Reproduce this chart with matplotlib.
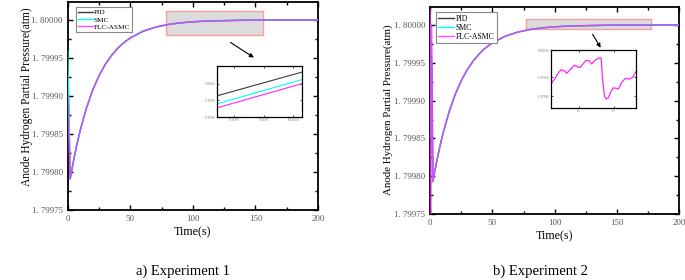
import matplotlib
matplotlib.use("Agg")
import matplotlib.pyplot as plt
from matplotlib.ticker import MultipleLocator, FuncFormatter, FixedLocator
from matplotlib.patches import Rectangle, FancyArrowPatch
from matplotlib.lines import Line2D

plt.rcParams["font.family"] = ["Liberation Serif", "DejaVu Serif"]

# --- main response (time in s, pressure in atm) ---
t_main = [0, 2, 5, 7.5, 10, 15, 20, 25, 30, 35, 40, 45, 50, 60, 70, 80,
          90, 100, 110, 120, 140, 160, 200]
p_curve = [1.7998176, 1.7998372, 1.7998547, 1.7998842, 1.7999078, 1.7999265,
           1.7999415, 1.7999534, 1.7999628, 1.7999704, 1.7999764, 1.7999850,
           1.7999905, 1.7999940, 1.7999962, 1.7999976, 1.7999985, 1.7999990,
           1.7999996, 1.8000000, 1.8000000]

# exp 1: start value and dip for each controller
p_pid_a = [1.79996, 1.799791] + p_curve
p_smc_a = [1.79996, 1.799791] + p_curve
p_flc_a = [1.79990, 1.799791] + p_curve

# exp 2: oscillating start then the same recovery
t_main_b = [0, 0.6, 1.2, 2.2] + t_main[2:]
p_pid_b = [1.80000, 1.79990, 1.79995, 1.799793] + p_curve
p_smc_b = [1.80000, 1.79985, 1.79996, 1.799793] + p_curve
p_flc_b = [1.80002, 1.79975, 1.80000, 1.799793] + p_curve

# zoomed inset, exp 1 (three parallel ramps)
t_zoom_a = [0.0, 1.0]
z_pid_a = [1.79999927, 1.80000069]
z_smc_a = [1.79999879, 1.80000024]
z_flc_a = [1.79999855, 1.80000000]

# zoomed inset, exp 2 (FLC-ASMC ripple)
t_zoom_b = [0.110, 0.157, 0.200, 0.244, 0.292, 0.326, 0.373, 0.437, 0.484,
            0.518, 0.566, 0.599, 0.648, 0.686, 0.734, 0.806, 0.821, 0.839,
            0.869, 0.893, 0.926, 0.965, 0.998, 1.037, 1.070, 1.119, 1.166,
            1.224, 1.272, 1.320]
z_flc_b = [1.79999890, 1.79999913, 1.79999940, 1.79999958, 1.79999952,
           1.79999940, 1.79999958, 1.79999982, 1.79999973, 1.79999970,
           1.79999991, 1.80000006, 1.80000006, 1.79999988, 1.80000009,
           1.80000021, 1.80000018, 1.79999913, 1.79999820, 1.79999808,
           1.79999814, 1.79999850, 1.79999865, 1.79999862, 1.79999859,
           1.79999895, 1.79999913, 1.79999910, 1.79999919, 1.79999949]

# gray zoom windows (t0, t1, p0, p1)
box_a = (78.5, 156, 1.799980, 1.800012)
box_b = (77, 177, 1.799995, 1.800008)

C_PID, C_SMC, C_FLC = "#3a3a3a", "#00ffff", "#ff22ff"
TICK_C = "#555555"


def ytick_fmt(v, pos):
    return f"{v:.5f}".replace(".", ". ")


def style_main(ax):
    ax.set_xlim(0, 200)
    ax.set_ylim(1.79975, 1.8000237)
    ax.xaxis.set_major_locator(MultipleLocator(50))
    ax.xaxis.set_minor_locator(MultipleLocator(25))
    ax.yaxis.set_major_locator(FixedLocator([1.79975, 1.79980, 1.79985, 1.79990, 1.79995, 1.80000]))
    ax.yaxis.set_minor_locator(FixedLocator([1.799775, 1.799825, 1.799875, 1.799925, 1.799975]))
    ax.yaxis.set_major_formatter(FuncFormatter(ytick_fmt))
    ax.tick_params(which="both", direction="in", top=True, right=True,
                   labelsize=6.3, colors="black", labelcolor=TICK_C, width=1)
    ax.tick_params(which="major", length=3.5)
    ax.tick_params(which="minor", length=2)
    for s in ax.spines.values():
        s.set_linewidth(1.3)


def draw_main(ax, t, pid, smc, flc, box):
    ax.add_patch(Rectangle((box[0], box[2]), box[1] - box[0], box[3] - box[2],
                           facecolor="#dcdcdc", edgecolor="#f2a0a0", lw=1, zorder=1))
    ax.plot(t, pid, color=C_PID, lw=1, zorder=2)
    ax.plot(t, smc, color=C_SMC, lw=1, zorder=3)
    ax.plot(t, flc, color=C_FLC, lw=1, alpha=0.82, zorder=4)
    style_main(ax)


def style_inset(ax):
    ax.tick_params(which="both", direction="in", top=True, right=True,
                   labelsize=2, length=1.2, width=0.5, pad=1, labelcolor="#777777")
    for s in ax.spines.values():
        s.set_linewidth(0.9)


fig = plt.figure(figsize=(6.85, 2.8), dpi=100)

ax_a = fig.add_axes([0.0988, 0.25, 0.3655, 0.743])
draw_main(ax_a, t_main, p_pid_a, p_smc_a, p_flc_a, box_a)
ax_b = fig.add_axes([0.628, 0.2357, 0.3635, 0.739])
draw_main(ax_b, t_main_b, p_pid_b, p_smc_b, p_flc_b, box_b)

handles = [Line2D([], [], color=C_PID, lw=1),
           Line2D([], [], color=C_SMC, lw=1),
           Line2D([], [], color=C_FLC, lw=1, alpha=0.8)]
for ax, anchor, fs in ((ax_a, (0.033, 0.975), 5.2), (ax_b, (0.024, 0.975), 5.6)):
    leg = ax.legend(handles, ["PID", "SMC", "FLC-ASMC"], loc="upper left",
                    bbox_to_anchor=anchor, fontsize=fs, handlelength=2.0,
                    handletextpad=0.2, borderpad=0.3, labelspacing=0.15,
                    fancybox=False, framealpha=1, borderaxespad=0)
    leg.get_frame().set_edgecolor("#888888")
    leg.get_frame().set_linewidth(0.8)

# axis titles
fig.text(0.040, 0.655, "Anode Hydrogen Partial Pressure(atm)", rotation=90,
         ha="center", va="center", fontsize=8.3)
fig.text(0.567, 0.607, "Anode Hydrogen Partial Pressure(atm)", rotation=90,
         ha="center", va="center", fontsize=7.8)
fig.text(192 / 685, 1 - 232 / 280, "Time(s)", ha="center", va="center", fontsize=8.6)
fig.text(554 / 685, 1 - 236 / 280, "Time(s)", ha="center", va="center", fontsize=8.6)
fig.text(183 / 685, 1 - 271 / 280, "a) Experiment 1", ha="center", va="center", fontsize=10.5)
fig.text(540 / 685, 1 - 271 / 280, "b) Experiment 2", ha="center", va="center", fontsize=10.5)

# arrows to insets
arrow = dict(arrowstyle="-|>", color="black", lw=0.8, mutation_scale=6)
fig.add_artist(FancyArrowPatch((0.333, 0.854), (0.374, 0.789),
                               transform=fig.transFigure, **arrow))
fig.add_artist(FancyArrowPatch((0.863, 0.886), (0.879, 0.821),
                               transform=fig.transFigure, **arrow))

# inset a
ins_a = fig.add_axes([0.3168, 0.582, 0.124, 0.182])
ins_a.plot(t_zoom_a, z_pid_a, color=C_PID, lw=0.8)
ins_a.plot(t_zoom_a, z_smc_a, color=C_SMC, lw=0.8)
ins_a.plot(t_zoom_a, z_flc_a, color=C_FLC, lw=0.8)
ins_a.set_xlim(0, 1)
ins_a.set_ylim(1.799998, 1.80000105)
ins_a.set_xticks([0.2, 0.55, 0.9])
ins_a.set_xticklabels(["99.99990", "99.99995", "100.00000"])
ins_a.set_yticks([1.799998, 1.799999, 1.800000])
ins_a.set_yticklabels(["1.799998", "1.799999", "1.800000"])
style_inset(ins_a)

# inset b
ins_b = fig.add_axes([0.8044, 0.614, 0.124, 0.207])
ins_b.plot(t_zoom_b, z_flc_b, color=C_FLC, lw=0.9)
ins_b.set_xlim(0.1, 1.32)
ins_b.set_ylim(1.7999976, 1.8000006)
ins_b.set_xticks([0.5, 1.0])
ins_b.set_xticklabels(["0.5", "1.0"])
ins_b.set_yticks([1.7999982, 1.7999992, 1.8000006])
ins_b.set_yticklabels(["1.7999982", "1.7999992", "1.8000006"])
style_inset(ins_b)

fig.savefig("out.png", dpi=100)
